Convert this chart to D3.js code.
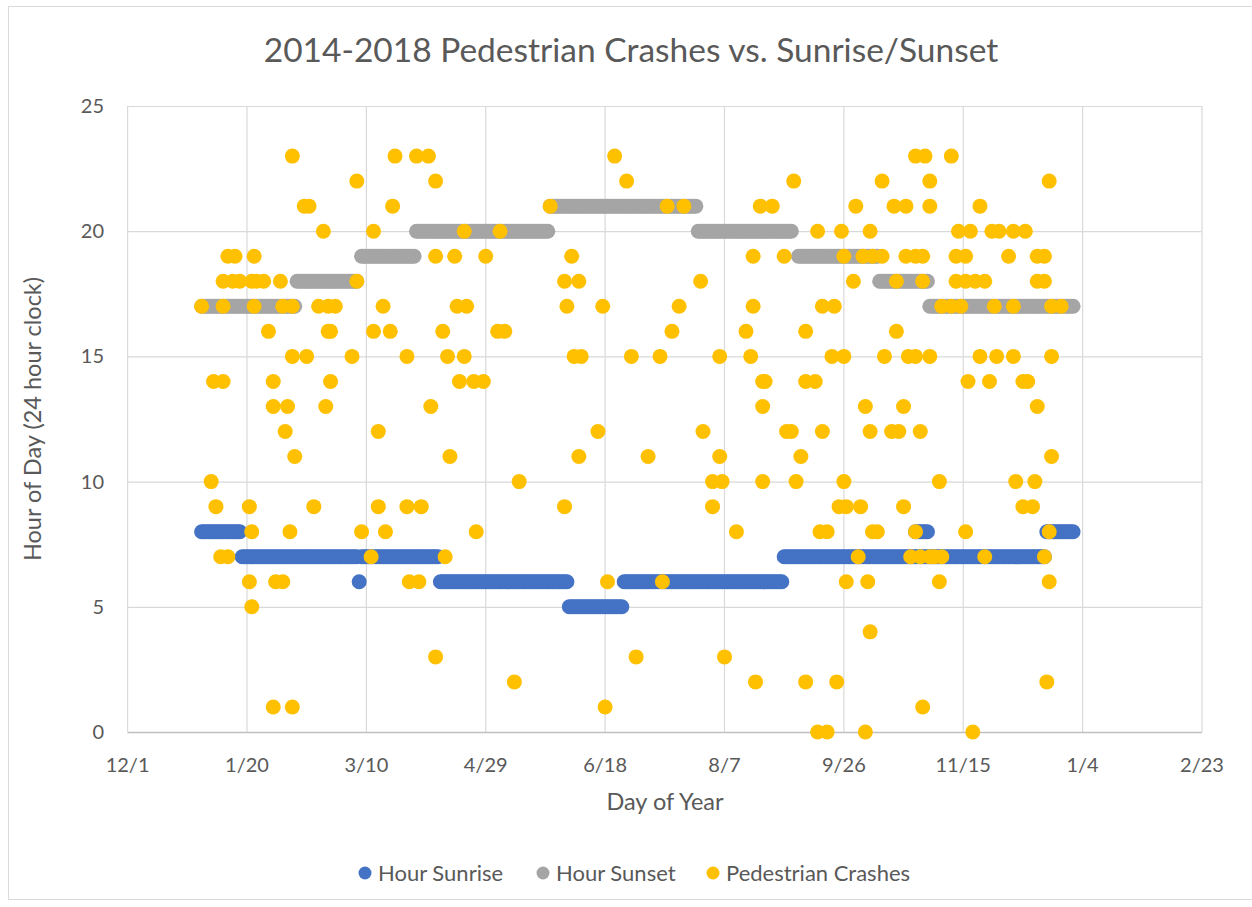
<!DOCTYPE html>
<html>
<meta charset="utf-8">
<style>
body { margin: 0; background: #fff; }
text { font-family: Lato, "Open Sans", sans-serif; fill: #595959; }
</style>
<body>
<svg width="1252" height="907"></svg>
<script src="https://d3js.org/d3.v7.min.js"></script>
<script>

// runs of days of the year (leap year, day 1 = 1/1): [first day, last day, hour]
var sunriseRuns = [[1,17,8],[18,66,7],[67,67,6],[68,100,7],[101,154,6],[155,177,5],
                   [178,244,6],[245,354,7],[300,305,8],[355,366,8]];
var sunsetRuns = [[1,40,17],[41,66,18],[68,90,19],[91,146,20],[147,208,21],
                  [209,248,20],[251,284,19],[285,305,18],[306,366,17]];

// pedestrian crashes: day of year for each hour of day
var crashDays = {
  0:  [259,263,279,324],
  1:  [31,39,170,303],
  2:  [132,233,254,267,355],
  3:  [99,183,220],
  4:  [281],
  5:  [22],
  6:  [21,32,35,88,92,171,194,271,280,310,356],
  7:  [9,12,72,103,276,298,302,306,308,311,329,354],
  8:  [22,38,68,78,116,225,260,263,282,284,300,321,356],
  9:  [7,21,48,75,87,93,153,215,268,271,277,295,345,349],
  10: [5,134,215,219,236,250,270,310,342,350],
  11: [40,105,159,188,218,252,357],
  12: [36,75,167,211,246,248,261,281,290,293,302],
  13: [31,37,53,97,236,279,295,351],
  14: [6,10,31,55,109,115,119,236,237,254,258,322,331,345,347],
  15: [39,45,64,87,104,111,157,160,181,193,218,231,265,270,287,297,300,306,327,334,341,357],
  16: [29,54,55,73,80,102,125,128,198,229,254,292],
  17: [1,10,23,35,39,50,54,57,77,108,112,154,169,201,232,261,266,311,315,319,333,341,357,361],
  18: [10,14,17,22,24,27,34,66,153,159,210,274,292,303,317,321,325,329,351,354],
  19: [12,15,23,99,107,120,156,232,245,270,278,282,286,296,300,303,317,321,339,351,354],
  20: [52,73,111,126,259,269,281,318,323,332,335,341,346],
  21: [44,46,81,147,196,203,235,240,275,291,296,306,327],
  22: [66,99,179,249,286,306,356],
  23: [39,82,91,96,174,300,304,315]
};

var yTicks = [0, 5, 10, 15, 20, 25];

var seriesNames = ["Hour Sunrise", "Hour Sunset", "Pedestrian Crashes"];
var seriesColors = ["#4472C4", "#A5A5A5", "#FFC000"];

function dayDate(d) { return new Date(Date.UTC(2000, 0, d)); }

function expandRuns(runs) {
  var pts = [];
  runs.forEach(function(r) {
    for (var d = r[0]; d <= r[1]; d++) pts.push({date: dayDate(d), hour: r[2]});
  });
  return pts;
}

var sunrise = expandRuns(sunriseRuns),
    sunset = expandRuns(sunsetRuns),
    crashes = [];
Object.keys(crashDays).forEach(function(h) {
  crashDays[h].forEach(function(d) { crashes.push({date: dayDate(d), hour: +h}); });
});

var svg = d3.select("svg");

// chart frame
svg.append("rect")
    .attr("x", 8.5).attr("y", 6.5)
    .attr("width", 1260).attr("height", 893)
    .attr("fill", "none").attr("stroke", "#d9d9d9");

var start = new Date(Date.UTC(1999, 11, 1)),
    end = new Date(Date.UTC(2001, 1, 23));

var x = d3.scaleUtc().domain([start, end]).range([127.6, 1202]),
    y = d3.scaleLinear().domain([0, 25]).range([732, 106]);

var xTicks = d3.utcDay.range(start, d3.utcDay.offset(end, 1), 50);
var fmt = d3.utcFormat("%-m/%-d");

// grid
svg.append("g").selectAll("line")
  .data(yTicks)
  .enter().append("line")
    .attr("x1", x.range()[0]).attr("x2", x.range()[1])
    .attr("y1", function(d) { return y(d) + 0.5; })
    .attr("y2", function(d) { return y(d) + 0.5; })
    .attr("stroke", function(d) { return d === 0 ? "#bfbfbf" : "#d9d9d9"; })
    .attr("stroke-width", function(d) { return d === 0 ? 1.5 : 1.2; });

svg.append("g").selectAll("line")
  .data(xTicks)
  .enter().append("line")
    .attr("x1", function(d) { return x(d); })
    .attr("x2", function(d) { return x(d); })
    .attr("y1", y(25)).attr("y2", y(0))
    .attr("stroke", "#d9d9d9")
    .attr("stroke-width", 1.2);

// tick labels
svg.append("g").selectAll("text")
  .data(xTicks)
  .enter().append("text")
    .attr("x", function(d) { return x(d); })
    .attr("y", 765)
    .attr("dy", "0.35em")
    .attr("text-anchor", "middle")
    .style("font-size", "20px")
    .text(fmt);

svg.append("g").selectAll("text")
  .data(yTicks)
  .enter().append("text")
    .attr("x", 104)
    .attr("y", function(d) { return y(d); })
    .attr("dy", "0.35em")
    .attr("text-anchor", "end")
    .style("font-size", "20px")
    .text(function(d) { return d; });

// series
function dots(data, color) {
  svg.append("g").selectAll("circle")
    .data(data)
    .enter().append("circle")
      .attr("cx", function(d) { return x(d.date); })
      .attr("cy", function(d) { return y(d.hour); })
      .attr("r", 7.5)
      .attr("fill", color);
}
dots(sunrise, seriesColors[0]);
dots(sunset, seriesColors[1]);
dots(crashes, seriesColors[2]);

// titles
svg.append("text")
    .attr("x", 631).attr("y", 50).attr("dy", "0.35em")
    .attr("text-anchor", "middle")
    .style("font-size", "33.5px")
    .text("2014-2018 Pedestrian Crashes vs. Sunrise/Sunset");

svg.append("text")
    .attr("x", 665).attr("y", 802).attr("dy", "0.35em")
    .attr("text-anchor", "middle")
    .style("font-size", "23.5px")
    .text("Day of Year");

svg.append("text")
    .attr("transform", "translate(33,419) rotate(-90)")
    .attr("dy", "0.35em")
    .attr("text-anchor", "middle")
    .style("font-size", "23.5px")
    .text("Hour of Day (24 hour clock)");

// legend
var legendX = [365, 543, 713];
var legend = svg.append("g").selectAll("g")
  .data(seriesNames)
  .enter().append("g")
    .attr("transform", function(d, i) { return "translate(" + legendX[i] + ",873)"; });

legend.append("circle")
    .attr("r", 6.5)
    .attr("fill", function(d, i) { return seriesColors[i]; });

legend.append("text")
    .attr("x", 13)
    .attr("dy", "0.35em")
    .style("font-size", "22px")
    .text(function(d) { return d; });

</script>
</body>
</html>
